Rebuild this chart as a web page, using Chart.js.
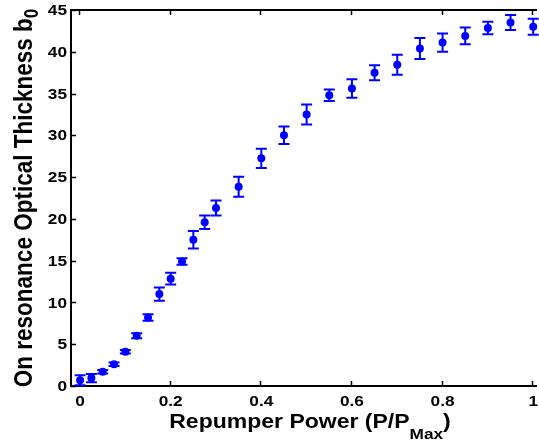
<!DOCTYPE html>
<html>
<head>
<meta charset="utf-8">
<script src="https://cdn.jsdelivr.net/npm/chart.js@4/dist/chart.umd.min.js"></script>
<style>
  html, body { margin: 0; padding: 0; background: #fff; overflow: hidden; }
  #odChart { display: block; }
</style>
</head>
<body>
<canvas id="odChart" width="539" height="443"></canvas>
<script>
// repumper power (P/Pmax), measured optical depth and its error bar
const powerValues = [0, 0.025, 0.05, 0.075, 0.1, 0.125, 0.15, 0.175, 0.2, 0.225, 0.25, 0.275, 0.3,
  0.35, 0.4, 0.45, 0.5, 0.55, 0.6, 0.65, 0.7, 0.75, 0.8, 0.85, 0.9, 0.95, 1.0];
const depthValues = [0.7, 0.95, 1.7, 2.6, 4.1, 6.0, 8.2, 11.0, 12.85, 14.9, 17.5, 19.6, 21.3,
  23.85, 27.25, 30.0, 32.5, 34.8, 35.6, 37.5, 38.45, 40.4, 41.1, 41.9, 42.85, 43.5, 43.0];
const depthErrors = [0.6, 0.5, 0.2, 0.2, 0.2, 0.3, 0.4, 0.8, 0.7, 0.4, 1.05, 0.8, 0.9,
  1.2, 1.15, 1.05, 1.2, 0.7, 1.1, 0.9, 1.2, 1.25, 1.1, 1.0, 0.75, 0.9, 0.95];
const xTicks = [0, 0.2, 0.4, 0.6, 0.8, 1];
const yTicks = [0, 5, 10, 15, 20, 25, 30, 35, 40, 45];

const xTitleMain = 'Repumper Power (P/P';
const xTitleSub = 'Max';
const xTitleEnd = ')';
const yTitleMain = 'On resonance Optical Thickness b';
const yTitleSub = '0';

const BLUE = '#0000ff';
const FONT = '"Liberation Sans", Arial, sans-serif';
const STRETCH = 1.15; // text in the original figure is a bit wide

// draw text squeezed/stretched horizontally around an anchor
function wideText(ctx, str, x, y, align) {
  ctx.save();
  ctx.translate(x, y);
  ctx.scale(STRETCH, 1);
  ctx.textAlign = align;
  ctx.fillText(str, 0, 0);
  ctx.restore();
}

// MATLAB-ish box with inward ticks + error bars, drawn under the markers
const boxPlugin = {
  id: 'matlabBox',
  beforeDatasetsDraw(chart) {
    const { ctx, chartArea: a, scales } = chart;
    ctx.save();
    ctx.strokeStyle = '#000';
    ctx.lineWidth = 2;
    ctx.beginPath();
    ctx.moveTo(a.left, a.top);
    ctx.lineTo(a.right + 2, a.top);
    ctx.moveTo(a.left, a.top - 1);
    ctx.lineTo(a.left, a.bottom);
    ctx.lineTo(a.right + 2, a.bottom);
    ctx.stroke();
    ctx.lineWidth = 1.5;
    ctx.beginPath();
    xTicks.forEach(v => {
      const px = Math.round(scales.x.getPixelForValue(v)) - 0.5;
      ctx.moveTo(px, a.bottom); ctx.lineTo(px, a.bottom - 5);
      ctx.moveTo(px, a.top); ctx.lineTo(px, a.top + 5);
    });
    yTicks.forEach(v => {
      const py = Math.round(scales.y.getPixelForValue(v)) + 0.5;
      ctx.moveTo(a.left, py); ctx.lineTo(a.left + 5, py);
    });
    ctx.stroke();

    // error bars
    const meta = chart.getDatasetMeta(0);
    ctx.strokeStyle = BLUE;
    ctx.lineWidth = 2;
    ctx.beginPath();
    meta.data.forEach((pt, i) => {
      const yTop = scales.y.getPixelForValue(depthValues[i] + depthErrors[i]);
      const yBot = scales.y.getPixelForValue(depthValues[i] - depthErrors[i]);
      ctx.moveTo(pt.x, yTop); ctx.lineTo(pt.x, yBot);
      ctx.moveTo(pt.x - 5.5, yTop); ctx.lineTo(pt.x + 5.5, yTop);
      ctx.moveTo(pt.x - 5.5, yBot); ctx.lineTo(pt.x + 5.5, yBot);
    });
    ctx.stroke();
    ctx.restore();
  },
  afterDraw(chart) {
    const { ctx, chartArea: a, scales } = chart;
    ctx.save();
    ctx.fillStyle = '#000';

    // tick labels
    ctx.font = 'bold 15px ' + FONT;
    ctx.textBaseline = 'alphabetic';
    xTicks.forEach(v => wideText(ctx, String(v), scales.x.getPixelForValue(v), a.bottom + 20, 'center'));
    ctx.textBaseline = 'middle';
    yTicks.forEach(v => wideText(ctx, String(v), a.left - 4, scales.y.getPixelForValue(v) + 1, 'right'));

    // x title with subscript
    ctx.textBaseline = 'alphabetic';
    const big = 'bold 20px ' + FONT, small = 'bold 15px ' + FONT;
    ctx.font = big;
    const w1 = ctx.measureText(xTitleMain).width;
    const w3 = ctx.measureText(xTitleEnd).width;
    ctx.font = small;
    const w2 = ctx.measureText(xTitleSub).width;
    const total = (w1 + w2 + w3) * STRETCH;
    ctx.save();
    ctx.translate(310 - total / 2, 428);
    ctx.scale(STRETCH, 1);
    ctx.font = big; ctx.fillText(xTitleMain, 0, 0);
    ctx.font = small; ctx.fillText(xTitleSub, w1, 11);
    ctx.font = big; ctx.fillText(xTitleEnd, w1 + w2, 0);
    ctx.restore();

    // y title, rotated, with subscript
    const yBig = 'bold 22.5px ' + FONT, ySmall = 'bold 17px ' + FONT;
    ctx.translate(32, (a.top + a.bottom) / 2);
    ctx.scale(STRETCH, 1);
    ctx.rotate(-Math.PI / 2);
    ctx.font = yBig;
    const v1 = ctx.measureText(yTitleMain).width;
    ctx.font = ySmall;
    const v2 = ctx.measureText(yTitleSub).width;
    const s = -(v1 + v2) / 2;
    ctx.font = yBig; ctx.fillText(yTitleMain, s, 0);
    ctx.font = ySmall; ctx.fillText(yTitleSub, s + v1, 5);
    ctx.restore();
  }
};

new Chart(document.getElementById('odChart').getContext('2d'), {
  type: 'scatter',
  data: {
    datasets: [{
      data: powerValues.map((p, i) => ({ x: p, y: depthValues[i] })),
      backgroundColor: BLUE,
      borderColor: BLUE,
      borderWidth: 0,
      pointRadius: 4,
      pointHoverRadius: 4,
      clip: false
    }]
  },
  options: {
    responsive: false,
    animation: false,
    events: [],
    layout: { padding: { top: 10, right: 0, left: 0, bottom: 0 } },
    plugins: { legend: { display: false }, tooltip: { enabled: false } },
    scales: {
      x: {
        type: 'linear',
        min: -0.02,
        max: 1.004,
        afterBuildTicks: s => { s.ticks = xTicks.map(v => ({ value: v })); },
        afterFit: s => { s.height = 57; },
        grid: { display: false, drawTicks: false },
        border: { display: false },
        ticks: { display: false }
      },
      y: {
        type: 'linear',
        min: 0,
        max: 45,
        afterBuildTicks: s => { s.ticks = yTicks.map(v => ({ value: v })); },
        afterFit: s => { s.width = 71; },
        grid: { display: false, drawTicks: false },
        border: { display: false },
        ticks: { display: false }
      }
    }
  },
  plugins: [boxPlugin]
});
</script>
</body>
</html>
